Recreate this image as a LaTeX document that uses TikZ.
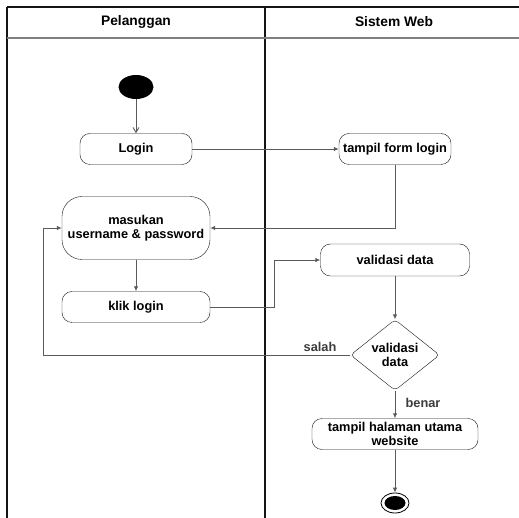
\documentclass[tikz,border=0pt]{standalone}
\usepackage{fontspec}
\setmainfont{Liberation Sans}
\usepackage{tikz}
\usetikzlibrary{shapes.geometric, arrows.meta, positioning, calc}
\definecolor{lanecolor}{RGB}{20,20,20}
\definecolor{flowcolor}{RGB}{90,90,90}
\definecolor{labelcolor}{RGB}{60,60,60}

\begin{document}
\begin{tikzpicture}[
    x=1pt, y=-1pt,
    act/.style={draw=lanecolor, rounded corners=10pt, minimum height=31pt, inner sep=1pt, align=center,
                font=\bfseries\fontsize{12.8}{14.5}\selectfont},
    decision/.style={draw=lanecolor, diamond, rounded corners=4pt, minimum width=89pt, minimum height=70pt,
                inner sep=0pt, align=center, font=\bfseries\fontsize{12.8}{14.5}\selectfont},
    flow/.style={draw=flowcolor, line width=0.9pt, -{Latex[length=5pt,width=4.5pt]}},
    lbl/.style={text=labelcolor, font=\bfseries\fontsize{12.8}{14.5}\selectfont},
    lanetitle/.style={font=\bfseries\fontsize{13.8}{15}\selectfont}
]
    \useasboundingbox (0,0) rectangle (519,518);

    % Swimlanes
    \draw[lanecolor, line width=1.4pt] (7,7) -- (519,7);
    \draw[lanecolor, line width=1.2pt] (7,7) -- (7,518);
    \draw[lanecolor, line width=1.2pt] (265,7) -- (265,518);
    \draw[gray, line width=1.4pt] (7,38) -- (519,38);
    \node[lanetitle] (laneA) at (136,22) {Pelanggan};
    \node[lanetitle] (laneB) at (394,22) {Sistem Web};

    % Activities
    \node[ellipse, fill=black, minimum width=35pt, minimum height=24pt, inner sep=0pt] (start) at (136,87) {};
    \node[act, minimum width=112pt] (login) at (136,149) {Login};
    \node[act, minimum width=112pt] (form) at (395,149) {tampil form login};
    \node[act, minimum width=148pt, minimum height=63pt, rounded corners=20pt] (input) at (136,228) {masukan\\username \& password};
    \node[act, minimum width=148pt] (klik) at (136,307) {klik login};
    \node[act, minimum width=149pt, minimum height=32pt] (valid) at (395,260) {validasi data};
    \node[decision] (cek) at (395,355) {validasi\\data};
    \node[act, minimum width=166pt, inner sep=0pt] (home) at (395,434) {tampil halaman utama\\website};
    \node[ellipse, draw=black, line width=0.8pt, minimum width=28pt, minimum height=20pt, inner sep=0pt] (stop) at (395,503) {};
    \node[ellipse, fill=black, minimum width=21pt, minimum height=14pt, inner sep=0pt] (stopdot) at (395,503) {};

    % Flows
    \coordinate (kink) at (274,307);
    \coordinate (back) at (43,355);
    \draw[flow, -{Straight Barb[length=5pt,width=6pt]}] (start) -- (login);
    \draw[flow] (login) -- (form);
    \draw[flow] (form.south) |- (input.east);
    \draw[flow] (input) -- (klik);
    \draw[flow] (klik.east) -- (kink) |- (valid.west);
    \draw[flow] (valid) -- (cek);
    \draw[flow] (cek.west) -- (back) |- (input.west);
    \draw[flow] (cek) -- (home);
    \draw[flow] (home) -- (stop);
    \node[lbl] (salah) at (320,347) {salah};
    \node[lbl] (benar) at (423,403) {benar};
\end{tikzpicture}
\end{document}
